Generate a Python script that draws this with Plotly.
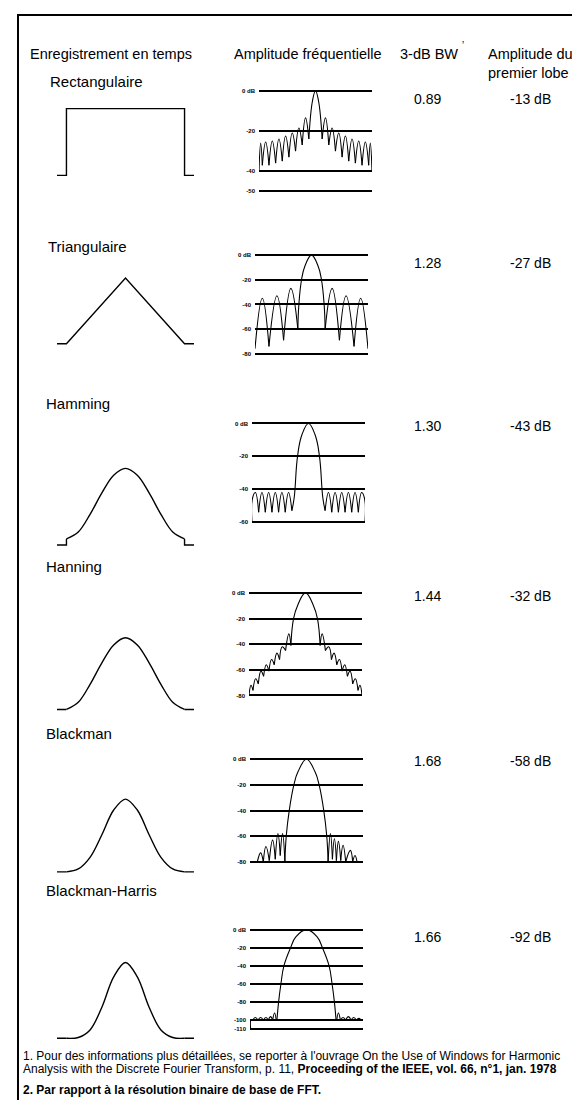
import plotly.graph_objects as go

W, H = 580, 1100
FONT = "Liberation Sans, Arial, sans-serif"

# ------------------------------------------------------------------ data
HEADERS = ["Enregistrement en temps", "Amplitude fréquentielle", "3-dB BW", "Amplitude du<br>premier lobe"]
WINDOW_NAMES = ["Rectangulaire", "Triangulaire", "Hamming", "Hanning", "Blackman", "Blackman-Harris"]
BW_3DB = ["0.89", "1.28", "1.30", "1.44", "1.68", "1.66"]
FIRST_LOBE = ["-13 dB", "-27 dB", "-43 dB", "-32 dB", "-58 dB", "-92 dB"]
FOOTNOTE_1A = "1. Pour des informations plus détaillées, se reporter à l'ouvrage On the Use of Windows for Harmonic"
FOOTNOTE_1B = "Analysis with the Discrete Fourier Transform, p. 11, <b>Proceeding of the IEEE, vol. 66, n°1, jan. 1978</b>"
FOOTNOTE_2 = "<b>2. Par rapport à la résolution binaire de base de FFT.</b>"

# time-domain windows (normalised time, amplitude)
RECT_T = [-0.08, 0.0, 0.0, 1.0, 1.0, 1.08]
RECT_A = [0, 0, 1, 1, 0, 0]
TRI_T = [-0.08, 0.0, 0.5, 1.0, 1.08]
TRI_A = [0, 0, 1, 0, 0]
HAMM_T = [-0.08, 0.0, 0.0, 0.1, 0.2, 0.3, 0.4, 0.5, 0.6, 0.7, 0.8, 0.9, 1.0, 1.0, 1.08]
HAMM_A = [0, 0, 0.08, 0.17, 0.40, 0.68, 0.91, 1.0, 0.91, 0.68, 0.40, 0.17, 0.08, 0, 0]
HANN_T = [-0.08, 0.0, 0.1, 0.2, 0.3, 0.4, 0.5, 0.6, 0.7, 0.8, 0.9, 1.0, 1.08]
HANN_A = [0, 0, 0.10, 0.35, 0.65, 0.90, 1.0, 0.90, 0.65, 0.35, 0.10, 0, 0]
BLACK_T = [-0.08, 0.0, 0.1, 0.2, 0.3, 0.4, 0.5, 0.6, 0.7, 0.8, 0.9, 1.0, 1.08]
BLACK_A = [0, 0, 0.04, 0.20, 0.51, 0.85, 1.0, 0.85, 0.51, 0.20, 0.04, 0, 0]
BH_T = [-0.08, 0.0, 0.1, 0.2, 0.3, 0.4, 0.5, 0.6, 0.7, 0.8, 0.9, 1.0, 1.08]
BH_A = [0, 0, 0.01, 0.11, 0.41, 0.81, 1.0, 0.81, 0.41, 0.11, 0.01, 0, 0]

# spectra (frequency in bins, level in dB)
RECT_F = [-8.5, -8.25, -8, -7.5, -7, -6.5, -6, -5.5, -5, -4.5, -4, -3.5, -3, -2.5, -2, -1.5, -1, -0.45, 0,
          0.45, 1, 1.5, 2, 2.5, 3, 3.5, 4, 4.5, 5, 5.5, 6, 6.5, 7, 7.5, 8, 8.25, 8.5]
RECT_DB = [-40, -26, -37, -25.5, -37, -25, -36, -24, -35, -22.5, -33, -21, -30, -18.5, -27, -13.5, -24, -5, 0,
           -5, -24, -13.5, -27, -18.5, -30, -21, -33, -22.5, -35, -24, -36, -25, -37, -25.5, -37, -26, -40]
RECT_GRID = [0, -20, -40, -50]
RECT_LBL = ["0 dB", "-20", "-40", "-50"]

TRI_F = [-8.5, -7.4, -6.4, -5.2, -4.2, -3.1, -2.05, -1.9, -1.5, -1.0, 0, 1.0, 1.5, 1.9, 2.05, 3.1, 4.2, 5.2, 6.4, 7.4, 8.5]
TRI_DB = [-76, -35, -74, -33, -69, -27, -60, -40, -20, -9, 0, -9, -20, -40, -60, -27, -69, -33, -74, -35, -76]
TRI_GRID = [0, -20, -40, -60, -80]
TRI_LBL = ["0 dB", "-20", "-40", "-60", "-80"]

HAMM_F = [-8.5, -8.45, -8, -7.5, -7, -6.5, -6, -5.5, -5, -4.5, -4, -3.5, -3, -2.5, -2.15, -1.65, -1.0, 0,
          1.0, 1.65, 2.15, 2.5, 3, 3.5, 4, 4.5, 5, 5.5, 6, 6.5, 7, 7.5, 8, 8.45, 8.5]
HAMM_DB = [-60, -46, -42, -54, -42, -54, -42, -54, -42, -54, -42, -54, -42, -53, -45, -20, -7, 0,
           -7, -20, -45, -53, -42, -54, -42, -54, -42, -54, -42, -54, -42, -54, -42, -46, -60]
HAMM_GRID = [0, -20, -40, -60]
HAMM_LBL = ["0 dB", "-20", "-40", "-60"]

HANN_F = [-8.5, -8.2, -7.9, -7.5, -7.1, -6.7, -6.3, -5.9, -5.5, -5.1, -4.7, -4.3, -3.9, -3.5, -3.0, -2.5, -2.2, -1.8, -1.2, 0,
          1.2, 1.8, 2.2, 2.5, 3.0, 3.5, 3.9, 4.3, 4.7, 5.1, 5.5, 5.9, 6.3, 6.7, 7.1, 7.5, 7.9, 8.2, 8.5]
HANN_DB = [-80, -72, -76, -67, -71, -61, -65, -56, -61, -52, -56, -47, -52, -42, -45, -32, -41, -20, -10, 0,
           -10, -20, -41, -32, -45, -42, -52, -47, -56, -52, -61, -56, -65, -61, -71, -67, -76, -72, -80]
HANN_GRID = [0, -20, -40, -60, -80]
HANN_LBL = ["0 dB", "-20", "-40", "-60", "-80"]

BLACK_F = [-7.4, -6.9, -6.5, -6.1, -5.6, -5.1, -4.7, -4.3, -3.95, -3.6, -3.25, -3.05, -2.6, -1.9, -1.3, 0,
           1.3, 1.9, 2.6, 3.05, 3.25, 3.6, 3.9, 4.2, 4.5, 4.8, 5.15, 5.5, 5.9, 6.6, 6.95, 7.3, 7.6]
BLACK_DB = [-80, -73, -80, -68, -79, -63, -78, -58, -75, -58, -80, -60, -40, -20, -10, 0,
            -10, -20, -40, -60, -80, -58, -78, -62, -79, -64, -79, -67, -80, -71, -80, -75, -80]
BLACK_GRID = [0, -20, -40, -60, -80]
BLACK_LBL = ["0 dB", "-20", "-40", "-60", "-80"]

BH_F = [-8.4, -8.35, -8.1, -7.7, -7.3, -6.9, -6.5, -6.1, -5.75, -5.4, -5.1, -4.8, -4.55, -4.45, -4.2, -3.85, -3.4, -2.4, -1.6, 0,
        1.6, 2.4, 3.4, 3.85, 4.2, 4.45, 4.55, 4.8, 5.1, 5.5, 5.9, 6.3, 6.7, 7.1, 7.5, 7.9, 8.2]
BH_DB = [-110, -100, -100, -97, -100, -97, -100, -97, -100, -96, -100, -92, -100, -100, -80, -60, -40, -20, -8, 0,
         -8, -20, -40, -60, -80, -100, -100, -92, -100, -97, -100, -96, -100, -97, -100, -98, -100]
BH_GRID = [0, -20, -40, -60, -80, -100, -110]
BH_LBL = ["0 dB", "-20", "-40", "-60", "-80", "-100", "-110"]

# ------------------------------------------------------------------ layout helpers
def xdom(v0, v1, p0, p1, r0, r1):
    s = (p1 - p0) / (v1 - v0)
    return [(p0 - (v0 - r0) * s) / W, (p1 + (r1 - v1) * s) / W]


def ydom(v_top, v_bot, p_top, p_bot, r0, r1):
    s = (p_bot - p_top) / (v_top - v_bot)
    top = p_top - (r1 - v_top) * s
    bot = p_bot + (v_bot - r0) * s
    return [1 - bot / H, 1 - top / H]


def split_lobes(f, db):
    """Cut a spectrum into lobes at its local minima (nulls), joined by gaps."""
    n = len(f)
    cuts = [0] + [k for k in range(1, n - 1) if db[k] <= db[k - 1] and db[k] <= db[k + 1]] + [n - 1]
    xs, ys = [], []
    for a, b in zip(cuts[:-1], cuts[1:]):
        if b > a:
            xs += f[a:b + 1] + [None]
            ys += db[a:b + 1] + [None]
    return xs, ys


TIME = [(RECT_T, RECT_A, False), (TRI_T, TRI_A, False), (HAMM_T, HAMM_A, True),
        (HANN_T, HANN_A, True), (BLACK_T, BLACK_A, True), (BH_T, BH_A, True)]
SPEC = [(RECT_F, RECT_DB, RECT_GRID, RECT_LBL), (TRI_F, TRI_DB, TRI_GRID, TRI_LBL),
        (HAMM_F, HAMM_DB, HAMM_GRID, HAMM_LBL), (HANN_F, HANN_DB, HANN_GRID, HANN_LBL),
        (BLACK_F, BLACK_DB, BLACK_GRID, BLACK_LBL), (BH_F, BH_DB, BH_GRID, BH_LBL)]

# pixel placement per row
DY = -8
TIME_BOX = [(107, 174), (277, 343), (468, 545), (638, 710), (800, 873), (964, 1040)]
TIME_X = (49, 186)
SPEC_BOX = [(89, 190, 251), (254, 353, 247), (423, 522, 244), (593, 696, 241), (760, 863, 242), (931, 1031, 242)]
SPEC_W = 113
LABEL_POS = [(40, 80), (38, 245), (36, 403), (36, 567), (36, 734), (36, 892)]
VALUE_Y = [97, 262, 426, 596, 762, 938]
HEADER_X = [20, 224, 390, 478]
BW_X, LOBE_X = 404, 500

fig = go.Figure()
layout = dict(width=W, height=H, margin=dict(l=0, r=0, t=0, b=0), paper_bgcolor="white",
              plot_bgcolor="rgba(0,0,0,0)", showlegend=False, font=dict(family=FONT, color="black"))
annotations = []
LINE = dict(color="black", width=1.4)

for i in range(6):
    n_t, n_s = 2 * i + 1, 2 * i + 2
    xt, yt = ("x" if n_t == 1 else f"x{n_t}"), ("y" if n_t == 1 else f"y{n_t}")
    xs, ys = f"x{n_s}", f"y{n_s}"
    kxt = "xaxis" if n_t == 1 else f"xaxis{n_t}"
    kyt = "yaxis" if n_t == 1 else f"yaxis{n_t}"

    t, a, smooth = TIME[i]
    if smooth:
        first = max(k for k in range(len(t)) if t[k] <= 0)
        last = min(k for k in range(len(t)) if t[k] >= 1)
        for seg_t, seg_a, shp in [(t[:first + 1], a[:first + 1], "linear"),
                                  (t[first:last + 1], a[first:last + 1], "spline"),
                                  (t[last:], a[last:], "linear")]:
            fig.add_trace(go.Scatter(x=seg_t, y=seg_a, mode="lines", line=dict(LINE, shape=shp),
                                     xaxis=xt, yaxis=yt, hoverinfo="skip"))
    else:
        fig.add_trace(go.Scatter(x=t, y=a, mode="lines", line=LINE, xaxis=xt, yaxis=yt, hoverinfo="skip"))
    layout[kxt] = dict(domain=xdom(-0.08, 1.08, TIME_X[0], TIME_X[1], -0.1, 1.1), range=[-0.1, 1.1],
                       visible=False, anchor=yt)
    layout[kyt] = dict(domain=ydom(1, 0, TIME_BOX[i][0] + DY, TIME_BOX[i][1] + DY, -0.05, 1.05),
                       range=[-0.05, 1.05], visible=False, anchor=xt)

    f, db, grid, lbl = SPEC[i]
    p_top, p_bot, px0 = SPEC_BOX[i]
    lo = grid[-1]
    sx, sy = split_lobes(f, db)
    fig.add_trace(go.Scatter(x=sx, y=sy, mode="lines", connectgaps=False,
                             line=dict(color="black", width=1.1, shape="spline", smoothing=1.2),
                             xaxis=xs, yaxis=ys, hoverinfo="skip"))
    layout[f"xaxis{n_s}"] = dict(domain=xdom(-8.5, 8.5, px0, px0 + SPEC_W, -8.5, 8.5), range=[-8.5, 8.5],
                                 visible=False, anchor=ys)
    layout[f"yaxis{n_s}"] = dict(domain=ydom(0, lo, p_top + DY, p_bot + DY, lo - 1.5, 1.5), range=[lo - 1.5, 1.5],
                                 tickvals=grid, ticktext=[f"<b>{s}</b>" for s in lbl],
                                 tickfont=dict(size=6, family=FONT, color="black"),
                                 showgrid=True, gridcolor="black", gridwidth=1.5, zeroline=False,
                                 showline=False, ticks="", ticklabelstandoff=3, anchor=xs)

    lx, ly = LABEL_POS[i]
    annotations.append(dict(text=WINDOW_NAMES[i], x=lx / W, y=1 - (ly + DY) / H, xref="paper", yref="paper",
                            xanchor="left", yanchor="middle", showarrow=False, font=dict(size=15)))
    annotations.append(dict(text=BW_3DB[i], x=BW_X / W, y=1 - (VALUE_Y[i] + DY) / H, xref="paper", yref="paper",
                            xanchor="left", yanchor="middle", showarrow=False, font=dict(size=14)))
    annotations.append(dict(text=FIRST_LOBE[i], x=LOBE_X / W, y=1 - (VALUE_Y[i] + DY) / H, xref="paper",
                            yref="paper", xanchor="left", yanchor="middle", showarrow=False, font=dict(size=14)))

for hx, txt in zip(HEADER_X, HEADERS):
    annotations.append(dict(text=txt, x=hx / W, y=1 - (52 + DY) / H, xref="paper", yref="paper",
                            xanchor="left", yanchor="top" if "<br>" in txt else "middle",
                            align="left", showarrow=False, font=dict(size=14.5)))
annotations[-1]["y"] = 1 - (42 + DY) / H
# small print mark after the 3-dB BW header
annotations.append(dict(text="ʼ", x=452 / W, y=1 - (44 + DY) / H, xref="paper", yref="paper",
                        xanchor="left", yanchor="middle", showarrow=False, font=dict(size=10)))

for txt, fy in [(FOOTNOTE_1A, 1050), (FOOTNOTE_1B, 1063), (FOOTNOTE_2, 1084)]:
    annotations.append(dict(text=txt, x=13 / W, y=1 - fy / H, xref="paper", yref="paper",
                            xanchor="left", yanchor="middle", showarrow=False, font=dict(size=12)))

layout["annotations"] = annotations
layout["shapes"] = [dict(type="rect", xref="paper", yref="paper", x0=10 / W, x1=575 / W,
                         y0=1 - 1115 / H, y1=1 - 5 / H, line=dict(color="black", width=2))]
fig.update_layout(**layout)
fig.write_html("out.html")
